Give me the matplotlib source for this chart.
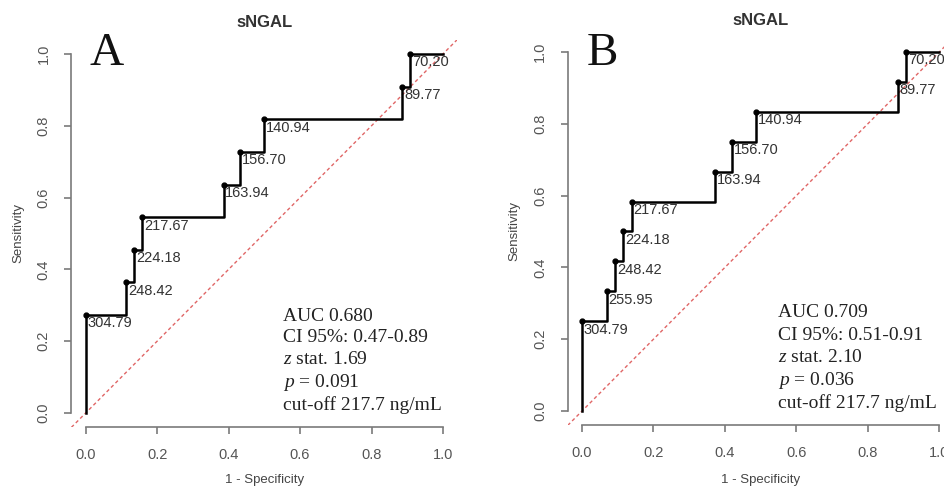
import matplotlib
matplotlib.use("Agg")
import matplotlib.pyplot as plt

plt.rcParams['mathtext.fontset'] = 'custom'
plt.rcParams['mathtext.it'] = 'Liberation Serif:italic'
plt.rcParams['mathtext.rm'] = 'Liberation Serif'

# ---------------- data ----------------
fpr_A = [0.0, 0.0, 0.114, 0.136, 0.159, 0.386, 0.432, 0.500, 0.886, 0.909, 1.0]
sens_A = [0.0, 0.273, 0.364, 0.455, 0.545, 0.636, 0.727, 0.818, 0.909, 1.0, 1.0]
thr_A = ["304.79", "248.42", "224.18", "217.67", "163.94", "156.70", "140.94", "89.77", "70.20"]
stats_A = ["AUC 0.680", "CI 95%: 0.47-0.89", r"$z$ stat. 1.69", r"$p$ = 0.091", "cut-off 217.7 ng/mL"]

fpr_B = [0.0, 0.0, 0.070, 0.093, 0.116, 0.140, 0.372, 0.419, 0.488, 0.884, 0.907, 1.0]
sens_B = [0.0, 0.250, 0.333, 0.417, 0.500, 0.583, 0.667, 0.750, 0.833, 0.917, 1.0, 1.0]
thr_B = ["304.79", "255.95", "248.42", "224.18", "217.67", "163.94", "156.70", "140.94", "89.77", "70.20"]
stats_B = ["AUC 0.709", "CI 95%: 0.51-0.91", r"$z$ stat. 2.10", r"$p$ = 0.036", "cut-off 217.7 ng/mL"]

ticks = [0.0, 0.2, 0.4, 0.6, 0.8, 1.0]
tick_labels = ["0.0", "0.2", "0.4", "0.6", "0.8", "1.0"]
title = "sNGAL"

fig = plt.figure(figsize=(9.44, 4.88), dpi=100)

AX_COL = "#7a7a7a"
LBL_COL = "#555555"

def panel(rect, fpr, sens, thr, stats, letter, letter_xy, stats_x, stats_y,
          title_y, ylab_x):
    ax = fig.add_axes(rect)
    ax.set_xlim(-0.04, 1.04)
    ax.set_ylim(-0.04, 1.04)
    for s in ("top", "right"):
        ax.spines[s].set_visible(False)
    for s in ("left", "bottom"):
        ax.spines[s].set_bounds(0, 1)
        ax.spines[s].set_color(AX_COL)
        ax.spines[s].set_linewidth(1.2)
    ax.set_xticks(ticks)
    ax.set_xticklabels(tick_labels, fontfamily="Liberation Sans", fontsize=10.5, color=LBL_COL)
    ax.set_yticks(ticks)
    ax.set_yticklabels(tick_labels, fontfamily="Liberation Sans", fontsize=10.5, color=LBL_COL,
                       rotation=90, va="center")
    ax.tick_params(length=5, width=1.2, color=AX_COL, pad=10)

    # diagonal reference line
    ax.axline((0, 0), (1, 1), color="#e06666", lw=1.0, ls=(0, (2.5, 2)), clip_on=True)

    # ROC step curve
    ax.plot(fpr, sens, drawstyle="steps-post", color="black", lw=1.8, zorder=3)
    ax.plot(fpr[1:len(thr) + 1], sens[1:len(thr) + 1], "o", color="black", ms=3.5, zorder=4)
    for x, y, t in zip(fpr[1:], sens[1:], thr):
        ax.annotate(t, (x, y), xytext=(1.2, -1), textcoords="offset points",
                    ha="left", va="top", fontfamily="Liberation Sans", fontsize=10.5,
                    color="#333333", zorder=5)

    for s, y in zip(stats, stats_y):
        ax.text(stats_x, y, s, fontfamily="Liberation Serif", fontsize=14,
                ha="left", va="center", color="#222222")

    ax.text(letter_xy[0], letter_xy[1], letter, fontfamily="Liberation Serif", fontsize=34,
            ha="center", va="center", color="#111111")

    bb = ax.get_position()
    cx = (bb.x0 + bb.x1) / 2
    fig.text(cx, title_y, title, fontfamily="Liberation Sans", fontweight="bold",
             fontsize=12, ha="center", va="center", color="#333333")
    fig.text(cx, 0.0164, "1 - Specificity", fontfamily="Liberation Sans", fontsize=9.5,
             ha="center", va="center", color="#444444")
    fig.text(ylab_x, (bb.y0 + bb.y1) / 2, "Sensitivity", fontfamily="Liberation Sans",
             fontsize=9.5, rotation=90, ha="center", va="center", color="#444444")
    return ax

panel([0.0756, 0.1242, 0.4088, 0.7947], fpr_A, sens_A, thr_A, stats_A, "A",
      (0.06, 1.0), 0.552, [0.270, 0.209, 0.148, 0.084, 0.022], 0.953, 0.019)
panel([0.6014, 0.1283, 0.4088, 0.7947], fpr_B, sens_B, thr_B, stats_B, "B",
      (0.056, 0.994), 0.549, [0.273, 0.209, 0.148, 0.086, 0.022], 0.959, 0.5445)

fig.savefig("out.png", dpi=100)
